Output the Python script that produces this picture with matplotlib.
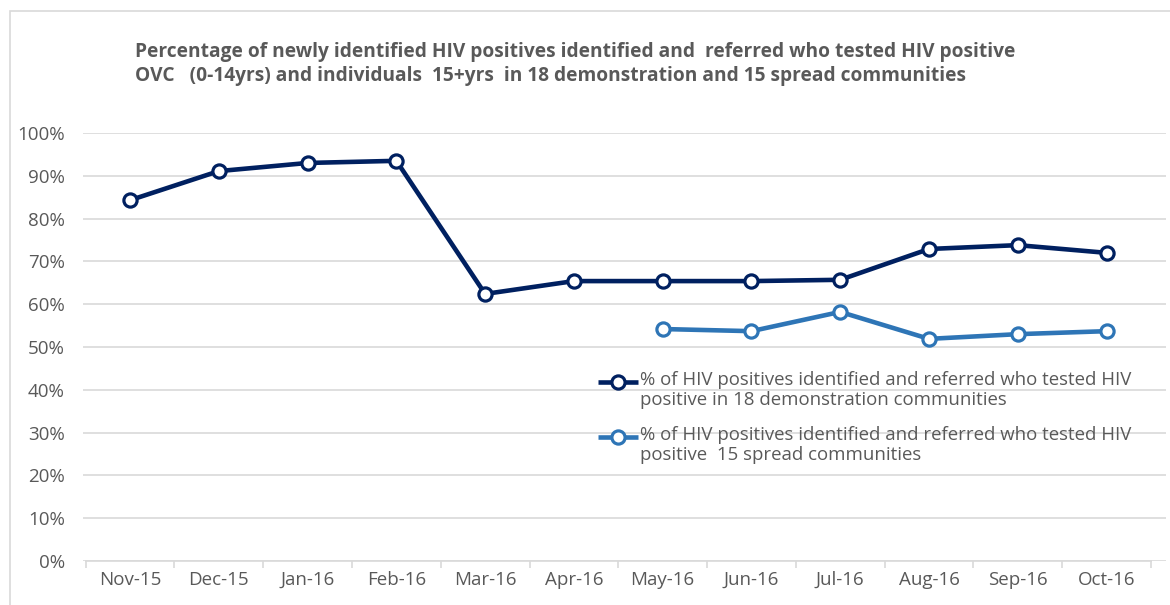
import matplotlib
matplotlib.use("Agg")
import matplotlib.pyplot as plt
from matplotlib.lines import Line2D
from matplotlib.patches import Rectangle
from matplotlib.ticker import FuncFormatter, MultipleLocator

months = ["Nov-15", "Dec-15", "Jan-16", "Feb-16", "Mar-16", "Apr-16",
          "May-16", "Jun-16", "Jul-16", "Aug-16", "Sep-16", "Oct-16"]
# % tested positive, 18 demonstration communities
demo_pct = [84.3, 91.1, 93.0, 93.5, 62.4, 65.4, 65.4, 65.4, 65.7, 72.9, 73.8, 72.0]
# % tested positive, 15 spread communities (reported from May-16)
spread_months = ["May-16", "Jun-16", "Jul-16", "Aug-16", "Sep-16", "Oct-16"]
spread_pct = [54.2, 53.7, 58.2, 51.9, 53.0, 53.7]

demo_label = ("% of HIV positives identified and referred who tested HIV\n"
              "positive in 18 demonstration communities")
spread_label = ("% of HIV positives identified and referred who tested HIV\n"
                "positive  15 spread communities")
title = ("Percentage of newly identified HIV positives identified and  referred who tested HIV positive\n"
         "OVC   (0-14yrs) and individuals  15+yrs  in 18 demonstration and 15 spread communities")

plt.rcParams['font.family'] = ['Open Sans', 'DejaVu Sans']
text_grey = "#595959"
grid_grey = "#d9d9d9"
navy = "#002060"
light = "#2E75B6"

W, H = 1170, 605
fig = plt.figure(figsize=(W / 100, H / 100), dpi=100)

def fx(px):
    return px / W

def fy(py):
    return 1 - py / H

# outer chart frame (only top and left edges are visible)
fig.add_artist(Rectangle((fx(10), -0.1), 1.2, fy(11) + 0.1, transform=fig.transFigure,
                         fill=False, edgecolor=grid_grey, linewidth=1.2))

left, right, top, bottom = 83, 1166, 133, 561
ax = fig.add_axes([fx(left), fy(bottom), (right - left) / W, (bottom - top) / H])

x_demo = list(range(len(months)))
x_spread = [months.index(m) for m in spread_months]

mk = dict(marker="o", markersize=9.5, markerfacecolor="white", markeredgewidth=2.3)
ax.plot(x_demo, demo_pct, color=navy, linewidth=3.3, markeredgecolor=navy, **mk)
ax.plot(x_spread, spread_pct, color=light, linewidth=3.3, markeredgecolor=light, **mk)

ax.set_ylim(0, 100)
ax.set_xlim(-0.53, 11.67)
ax.yaxis.set_major_locator(MultipleLocator(10))
ax.yaxis.set_major_formatter(FuncFormatter(lambda v, p: f"{v:.0f}%"))
ax.grid(axis="y", color=grid_grey, linewidth=1.2)
ax.set_axisbelow(True)

ax.set_xticks(x_demo)
ax.set_xticklabels(months)
ax.set_xticks([i - 0.5 for i in range(len(months) + 1)], minor=True)
ax.tick_params(axis="x", which="major", length=0, pad=7, labelsize=13.5, labelcolor=text_grey)
ax.tick_params(axis="x", which="minor", length=5, color=grid_grey, width=1.2)
ax.tick_params(axis="y", length=0, pad=13, labelsize=13.5, labelcolor=text_grey)

for side in ["top", "right", "left"]:
    ax.spines[side].set_visible(False)
ax.spines["bottom"].set_color(grid_grey)
ax.spines["bottom"].set_linewidth(1.2)
ax.spines["bottom"].set_bounds(-0.5, 11.5)

fig.text(fx(135), fy(42), title, ha="left", va="top", fontsize=13.8,
         fontweight="bold", color=text_grey, linespacing=1.3)

# legend: handle sits on the first line of each two-line entry
for label, color, y0 in [(demo_label, navy, 382), (spread_label, light, 437)]:
    fig.add_artist(Line2D([fx(598), fx(638)], [fy(y0), fy(y0)], transform=fig.transFigure,
                          color=color, linewidth=3.3, solid_capstyle="butt"))
    fig.add_artist(Line2D([fx(618)], [fy(y0)], transform=fig.transFigure,
                          color=color, markeredgecolor=color, **mk))
    fig.text(fx(640), fy(y0 - 11), label, ha="left", va="top", fontsize=13.4,
             color=text_grey, linespacing=1.15)

fig.savefig("out.png", dpi=100, facecolor="white")
